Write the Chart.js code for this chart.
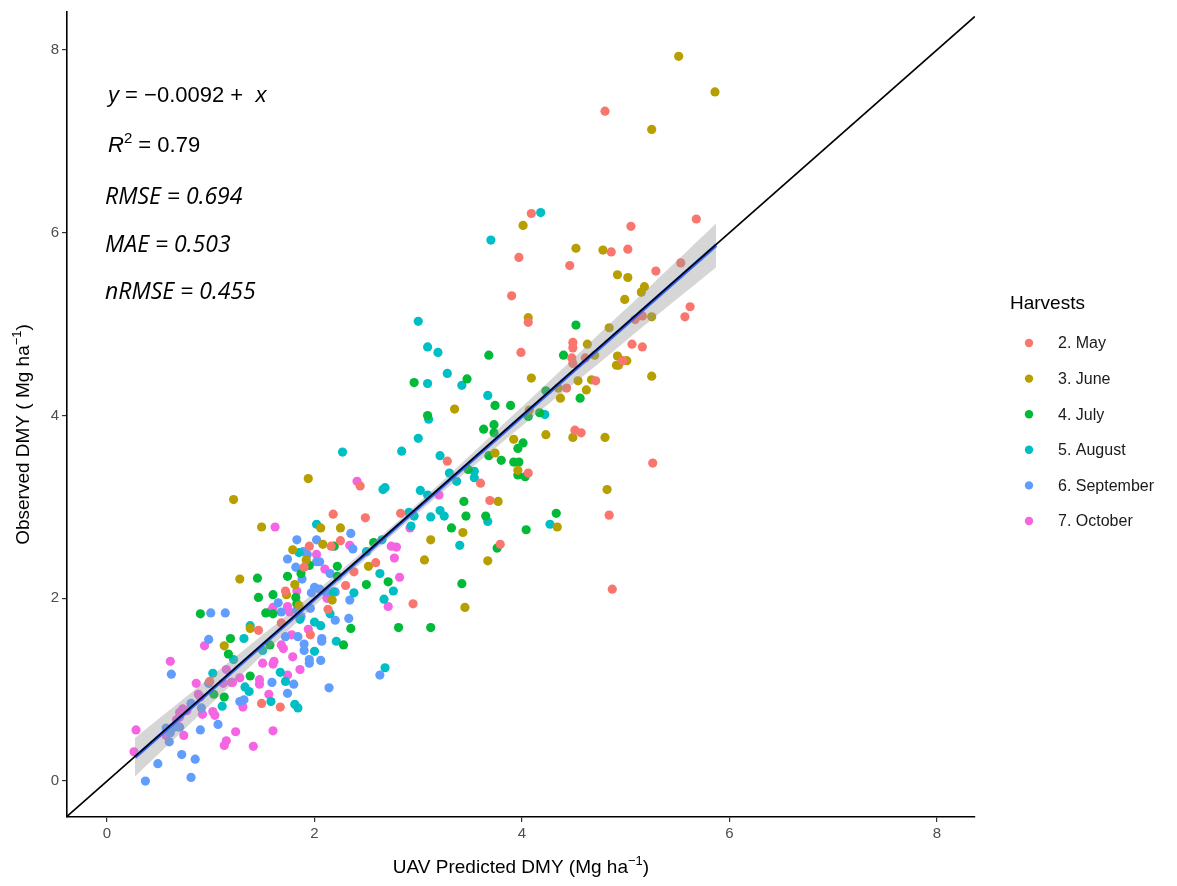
<!DOCTYPE html>
<html>
<head>
<meta charset="utf-8">
<title>Observed vs UAV predicted DMY</title>
<script src="https://cdn.jsdelivr.net/npm/chart.js@4.4.0/dist/chart.umd.min.js"></script>
<style>
  html, body { margin: 0; padding: 0; background: #fff; }
  #wrap { width: 1177px; height: 886px; }
</style>
</head>
<body>
<div id="wrap"><canvas id="dmy" width="1177" height="886"></canvas></div>
<script>
// harvest groups and ggplot hue colours
const harvests = ['2. May', '3. June', '4. July', '5. August', '6. September', '7. October'];
const harvestColors = ['#F8766D', '#B79F00', '#00BA38', '#00BFC4', '#619CFF', '#F564E3'];

// [predicted, observed] in Mg/ha
const may = [
  [4.80,7.33],[5.68,6.15],[4.09,6.21],[5.05,6.07],[4.86,5.79],[5.02,5.82],[3.97,5.73],[4.46,5.64],
  [5.29,5.58],[5.53,5.67],[3.90,5.31],[5.62,5.19],[5.57,5.08],[5.16,5.09],[5.09,5.05],[4.06,5.02],
  [5.06,4.78],[5.16,4.75],[4.49,4.80],[4.49,4.74],[3.99,4.69],[4.48,4.63],[4.49,4.57],[4.61,4.63],
  [4.97,4.60],[4.71,4.38],[4.43,4.30],[4.51,3.84],[4.57,3.81],[4.06,3.37],[3.60,3.26],[5.26,3.48],
  [3.69,3.07],[4.84,2.91],[3.79,2.59],[4.87,2.10],[3.28,3.50],[2.44,3.23],[2.83,2.93],[2.49,2.88],
  [2.18,2.92],[2.25,2.63],[1.95,2.57],[2.16,2.57],[1.90,2.34],[2.59,2.39],[2.95,1.94],[2.38,2.29],
  [2.30,2.14],[1.72,2.08],[2.13,1.88],[1.68,1.73],[1.96,1.60],[1.46,1.65],[1.49,0.85],[1.67,0.81],
  [0.99,1.09]
];
const june = [
  [5.51,7.93],[5.86,7.54],[5.25,7.13],[4.01,6.08],[4.52,5.83],[4.78,5.81],[4.92,5.54],[5.02,5.51],
  [5.18,5.41],[5.15,5.35],[4.99,5.27],[5.25,5.08],[4.06,5.07],[4.84,4.96],[4.63,4.78],[4.70,4.66],
  [4.92,4.65],[5.01,4.60],[4.91,4.55],[4.93,4.55],[4.09,4.41],[5.25,4.43],[4.54,4.38],[4.67,4.39],
  [4.62,4.28],[4.37,4.19],[4.35,4.30],[4.07,4.06],[4.49,3.76],[4.80,3.76],[4.23,3.79],[3.92,3.74],
  [3.74,3.59],[3.96,3.40],[3.35,4.07],[4.82,3.19],[3.77,3.06],[4.34,2.78],[3.67,2.41],[3.43,2.72],
  [3.12,2.64],[3.06,2.42],[2.52,2.35],[3.45,1.90],[1.94,3.31],[1.22,3.08],[1.49,2.78],[2.06,2.77],
  [2.25,2.77],[1.79,2.53],[2.08,2.59],[1.92,2.42],[1.28,2.21],[1.81,2.15],[1.73,2.04],[2.17,1.98],
  [1.85,1.92],[1.38,1.67],[1.13,1.48]
];
const july = [
  [4.52,4.99],[3.68,4.66],[4.40,4.66],[4.56,4.19],[4.23,4.27],[3.74,4.11],[3.89,4.11],[4.17,4.03],
  [4.06,3.99],[3.73,3.90],[3.73,3.81],[3.63,3.85],[4.01,3.70],[3.96,3.64],[3.68,3.56],[3.80,3.51],
  [3.92,3.49],[3.97,3.49],[3.96,3.35],[4.03,3.33],[3.65,2.90],[4.33,2.93],[4.04,2.75],[3.76,2.55],
  [2.96,4.36],[3.47,4.40],[3.09,4.00],[3.48,3.41],[3.44,3.06],[3.46,2.90],[3.32,2.77],[2.57,2.61],
  [2.71,2.18],[2.50,2.15],[3.42,2.16],[2.19,2.57],[1.95,2.36],[2.22,2.35],[1.87,2.27],[1.74,2.24],
  [1.45,2.22],[2.22,2.24],[1.60,2.04],[1.46,2.01],[1.82,2.01],[1.83,1.94],[1.53,1.84],[1.60,1.83],
  [0.90,1.83],[1.19,1.56],[2.81,1.68],[3.12,1.68],[2.35,1.67],[2.28,1.49],[1.57,1.49],[1.38,1.15],
  [1.17,1.39],[1.03,0.95],[1.13,0.92]
];
const august = [
  [4.18,6.22],[3.70,5.92],[3.67,4.22],[4.22,4.01],[3.00,5.03],[3.09,4.75],[3.19,4.69],[3.28,4.46],
  [3.09,4.35],[3.42,4.33],[3.10,3.96],[3.00,3.75],[2.84,3.61],[2.27,3.60],[3.21,3.56],[3.30,3.37],
  [3.37,3.28],[3.54,3.39],[3.54,3.32],[2.66,3.19],[2.68,3.21],[3.02,3.18],[3.09,3.13],[2.91,2.94],
  [2.96,2.90],[3.12,2.89],[3.21,2.96],[3.25,2.90],[3.67,2.84],[4.27,2.81],[2.93,2.79],[2.65,2.64],
  [2.50,2.51],[3.40,2.58],[2.63,2.27],[2.76,2.08],[2.67,1.99],[2.02,2.81],[1.85,2.50],[2.15,1.83],
  [2.18,2.07],[2.38,2.06],[1.86,1.77],[2.00,1.74],[2.06,1.70],[1.38,1.70],[1.32,1.56],[2.21,1.53],
  [1.50,1.43],[1.22,1.33],[2.00,1.42],[1.67,1.19],[1.72,1.09],[1.33,1.03],[1.37,0.98],[1.58,0.87],
  [1.81,0.84],[1.84,0.80],[2.68,1.24],[1.02,1.18],[1.11,0.82]
];
const september = [
  [2.35,2.71],[1.83,2.64],[2.02,2.64],[1.89,2.51],[1.93,2.48],[2.37,2.54],[1.74,2.43],[2.05,2.40],
  [2.02,2.40],[1.82,2.34],[2.15,2.27],[1.88,2.21],[1.97,2.06],[2.00,2.12],[2.05,2.10],[2.20,2.07],
  [2.11,2.07],[1.65,1.95],[1.68,1.85],[1.83,1.87],[1.96,1.89],[1.87,1.80],[2.20,1.76],[1.00,1.84],
  [1.14,1.84],[1.84,1.58],[1.72,1.58],[0.98,1.55],[2.07,1.56],[2.34,1.98],[2.33,1.78],[1.90,1.50],
  [1.90,1.43],[2.07,1.53],[1.95,1.33],[1.95,1.29],[2.06,1.32],[1.80,1.06],[1.59,1.08],[1.74,0.96],
  [2.14,1.02],[1.28,0.87],[1.32,0.89],[2.63,1.16],[0.62,1.17],[0.98,1.07],[0.81,0.85],[0.91,0.80],
  [1.07,0.62],[0.90,0.56],[0.70,0.59],[0.65,0.59],[0.57,0.58],[0.61,0.53],[0.60,0.43],[0.72,0.29],
  [0.85,0.24],[0.49,0.19],[0.81,0.04],[0.37,0.00]
];
const october = [
  [2.41,3.28],[3.20,3.13],[1.62,2.78],[2.92,2.77],[2.74,2.57],[2.79,2.56],[2.77,2.44],[2.82,2.23],
  [2.71,1.91],[2.34,2.58],[2.02,2.48],[2.10,2.32],[1.83,2.08],[2.12,2.00],[1.60,1.90],[1.58,1.86],
  [1.74,1.91],[1.76,1.85],[1.94,1.66],[1.78,1.60],[1.68,1.49],[1.70,1.45],[1.79,1.36],[1.86,1.22],
  [1.50,1.29],[1.60,1.28],[1.61,1.31],[1.74,1.16],[1.47,1.11],[1.47,1.06],[1.28,1.13],[1.21,1.08],
  [1.56,0.95],[1.31,0.81],[0.94,1.48],[0.61,1.31],[1.15,1.22],[0.86,1.07],[1.12,1.07],[1.20,1.08],
  [0.88,0.95],[0.90,0.92],[0.77,0.77],[0.73,0.79],[0.70,0.75],[1.02,0.76],[1.04,0.72],[0.92,0.73],
  [0.74,0.50],[0.57,0.50],[0.67,0.67],[0.70,0.70],[0.28,0.56],[0.26,0.32],[1.24,0.54],[1.60,0.55],
  [1.15,0.44],[1.13,0.39],[1.41,0.38]
];
const harvestData = [may, june, july, august, september, october];

// fitted line and its confidence band
const fitIntercept = -0.0092;
const fitSlope = 1;
const fitRange = [0.27, 5.87];
const bandX    = [0.27, 0.75, 1.25, 1.75, 2.25, 2.75, 3.25, 3.75, 4.25, 4.75, 5.25, 5.87];
const bandHalf = [0.21, 0.17, 0.13, 0.09, 0.06, 0.05, 0.06, 0.09, 0.12, 0.16, 0.19, 0.24];

// axes
const xMin = -0.3855, xMax = 8.366;
const yMin = -0.393, yMax = 8.415;
const xTicks = [0, 2, 4, 6, 8];
const yTicks = [0, 2, 4, 6, 8];

const statLines = ['RMSE = 0.694', 'MAE = 0.503', 'nRMSE = 0.455'];

const fit = x => fitIntercept + fitSlope * x;

const datasets = harvests.map((name, i) => ({
  type: 'scatter',
  label: name,
  data: harvestData[i].map(p => ({ x: p[0], y: p[1] })),
  backgroundColor: harvestColors[i],
  borderWidth: 0,
  pointRadius: 4.6,
  order: 4
}));

datasets.push({
  type: 'line', label: 'band-low',
  data: bandX.map((x, i) => ({ x: x, y: fit(x) - bandHalf[i] })),
  borderWidth: 0, pointRadius: 0, tension: 0.3, fill: false, order: 3
});
datasets.push({
  type: 'line', label: 'band-high',
  data: bandX.map((x, i) => ({ x: x, y: fit(x) + bandHalf[i] })),
  borderWidth: 0, pointRadius: 0, tension: 0.3,
  fill: '-1', backgroundColor: 'rgba(153,153,153,0.4)', order: 3
});
datasets.push({
  type: 'line', label: 'fit',
  data: fitRange.map(x => ({ x: x, y: fit(x) })),
  borderColor: '#3366FF', borderWidth: 3.6, pointRadius: 0, fill: false, order: 2
});
datasets.push({
  type: 'line', label: '1:1',
  data: [xMin, xMax].map(v => ({ x: v, y: v })),
  borderColor: '#000', borderWidth: 1.7, pointRadius: 0, fill: false, order: 1
});

// text with italic / superscript runs
function drawRuns(ctx, runs, x, y, size, family) {
  let cx = x;
  runs.forEach(r => {
    const fs = r.sup ? Math.round(size * 0.7) : size;
    ctx.font = (r.italic ? 'italic ' : '') + fs + 'px ' + family;
    ctx.fillText(r.t, cx, r.sup ? y - size * 0.42 : y);
    cx += ctx.measureText(r.t).width;
  });
  return cx - x;
}
function runsWidth(ctx, runs, size, family) {
  let w = 0;
  runs.forEach(r => {
    const fs = r.sup ? Math.round(size * 0.7) : size;
    ctx.font = (r.italic ? 'italic ' : '') + fs + 'px ' + family;
    w += ctx.measureText(r.t).width;
  });
  return w;
}

const decorations = {
  id: 'decorations',
  afterDraw(chart) {
    const ctx = chart.ctx;
    const area = chart.chartArea;
    ctx.save();
    ctx.fillStyle = '#000';
    ctx.textBaseline = 'alphabetic';
    ctx.textAlign = 'left';

    // equation and R²
    const sans = '"Liberation Sans", Arial, sans-serif';
    drawRuns(ctx, [
      { t: 'y', italic: true }, { t: ' = \u22120.0092 +  ' }, { t: 'x', italic: true }
    ], 108, 102, 22, sans);
    drawRuns(ctx, [
      { t: 'R', italic: true }, { t: '2', sup: true }, { t: ' = 0.79' }
    ], 108, 152, 22, sans);

    // error statistics
    ctx.font = 'italic 23px "Open Sans", sans-serif';
    statLines.forEach((s, i) => ctx.fillText(s, 105, 204 + i * 47.5));

    // axis titles
    const xt = [{ t: 'UAV Predicted DMY (Mg ha' }, { t: '\u22121', sup: true }, { t: ')' }];
    const xw = runsWidth(ctx, xt, 19, sans);
    drawRuns(ctx, xt, (area.left + area.right) / 2 - xw / 2, 873, 19, sans);

    const yt = [{ t: 'Observed DMY ( Mg ha' }, { t: '\u22121', sup: true }, { t: ')' }];
    const yw = runsWidth(ctx, yt, 19, sans);
    ctx.save();
    ctx.translate(29, (area.top + area.bottom) / 2 + 20);
    ctx.rotate(-Math.PI / 2);
    drawRuns(ctx, yt, -yw / 2, 0, 19, sans);
    ctx.restore();

    // legend
    ctx.font = '19px ' + sans;
    ctx.fillText('Harvests', 1010, 309);
    ctx.font = '16px ' + sans;
    ctx.textBaseline = 'middle';
    harvests.forEach((h, i) => {
      const cy = 343 + i * 35.6;
      ctx.fillStyle = harvestColors[i];
      ctx.beginPath();
      ctx.arc(1029, cy, 4.2, 0, Math.PI * 2);
      ctx.fill();
      ctx.fillStyle = '#1a1a1a';
      ctx.fillText(h, 1058, cy + 1);
    });
    ctx.restore();
  }
};

const axisCommon = {
  type: 'linear',
  grid: { display: true, drawOnChartArea: false, drawTicks: true, tickLength: 5, color: '#333', lineWidth: 1.2 },
  border: { display: true, color: '#000', width: 1.6 },
  ticks: { color: '#4d4d4d', font: { size: 15, family: '"Liberation Sans", Arial, sans-serif' }, padding: 3 },
  title: { display: false }
};

new Chart(document.getElementById('dmy'), {
  data: { datasets: datasets },
  options: {
    responsive: false,
    animation: false,
    devicePixelRatio: 1,
    layout: { padding: { left: 0, top: 10, right: 202, bottom: 0 } },
    plugins: { legend: { display: false }, tooltip: { enabled: false } },
    scales: {
      x: Object.assign({}, axisCommon, {
        position: 'bottom', min: xMin, max: xMax,
        afterBuildTicks: s => { s.ticks = xTicks.map(v => ({ value: v })); },
        afterFit: s => { s.height = 69; }
      }),
      y: Object.assign({}, axisCommon, {
        position: 'left', min: yMin, max: yMax,
        afterBuildTicks: s => { s.ticks = yTicks.map(v => ({ value: v })); },
        afterFit: s => { s.width = 67; }
      })
    }
  },
  plugins: [decorations]
});
</script>
</body>
</html>
